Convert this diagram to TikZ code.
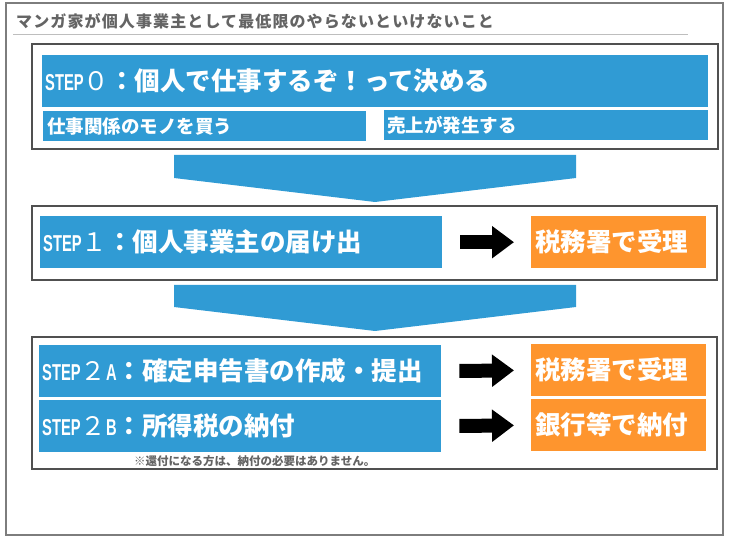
\documentclass[tikz,border=0pt]{standalone}
\usepackage{fontspec}
\usepackage{xcolor}
\usepackage{tikz}
\usetikzlibrary{positioning,arrows.meta,calc}
\setmainfont{Noto Sans CJK JP}
\newfontfamily\titlefont{Noto Sans CJK JP}[LetterSpace=7]
\newfontfamily\stepfont{Liberation Sans}[FakeStretch=0.64]
\definecolor{stepblue}{RGB}{48,155,212}
\definecolor{taxorange}{RGB}{254,149,46}
\definecolor{boxgray}{RGB}{80,80,80}
\definecolor{framegray}{RGB}{125,125,125}
\definecolor{titlegray}{RGB}{100,100,100}
\definecolor{rulegray}{RGB}{190,190,190}
\tikzset{
  stepbox/.style={draw=boxgray,line width=2.2pt},
  stepbar/.style={fill=stepblue,text=white,anchor=north west,
            inner xsep=3pt,inner ysep=0pt,minimum height=52pt,text width=396pt,
            align=left,font=\fontsize{25.5}{28}\selectfont\bfseries},
  subbar/.style={stepbar,minimum height=30pt,font=\fontsize{18.5}{20}\selectfont\bfseries},
  office/.style={stepbar,fill=taxorange,inner xsep=4pt,text width=167pt},
  flowdown/.style={fill=stepblue},
  goarrow/.style={line width=14pt,-{Triangle[width=31pt,length=22pt]},
            shorten <=18pt,shorten >=17pt},
}
\newcommand{\steplbl}[1]{{\fontsize{23}{24}\selectfont\stepfont\bfseries #1}}

\begin{document}
\begin{tikzpicture}[x=1pt,y=-1pt,
                    titletext/.style={anchor=west,inner sep=0pt,text=titlegray,
                                      font=\titlefont\fontsize{16}{18}\selectfont\bfseries},
                    notetext/.style={anchor=west,inner sep=0pt,text=titlegray,
                                     font=\fontsize{11.5}{13}\selectfont\bfseries}]
  \useasboundingbox (0,0) rectangle (729,537);
  \draw[framegray,line width=2pt] (6,3) rectangle (723,535);
  \node[titletext] (title) at (16,21) {マンガ家が個人事業主として最低限のやらないといけないこと};
  \draw[rulegray,line width=1pt] (13,35) -- (688,35);

  \draw[stepbox] (32,44) rectangle (718,149);
  \node[stepbar,text width=660pt] (s0) at (42,55)
    {\steplbl{STEP}{\mdseries ０}：個人で仕事するぞ！って決める};
  \node[subbar,inner xsep=4pt,text width=315pt] (s0a) at (43,111) {仕事関係のモノを買う};
  \node[subbar,text width=318pt] (s0b) at (384,110) {売上が発生する};

  \fill[flowdown] (174,155) -- (576,155) -- (576,178) -- (375,202) -- (174,178) -- cycle;

  \draw[stepbox] (32,206) rectangle (717,280);
  \node[stepbar] (s1) at (40,216) {\steplbl{STEP}{\mdseries １}：個人事業主の届け出};
  \node[office] (r1) at (531,216) {税務署で受理};
  \draw[goarrow] (s1.east) -- (r1.west);

  \fill[flowdown] (174,285) -- (576,285) -- (576,307) -- (375,331) -- (174,307) -- cycle;

  \draw[stepbox] (32,337) rectangle (717,469);
  \node[stepbar] (s2a) at (39,345) {\steplbl{STEP}{\mdseries ２}\steplbl{A}：確定申告書の作成・提出};
  \node[office] (r2a) at (531,344) {税務署で受理};
  \draw[goarrow] (s2a.east) -- (r2a.west);
  \node[stepbar] (s2b) at (39,400) {\steplbl{STEP}{\mdseries ２}\steplbl{B}：所得税の納付};
  \node[office] (r2b) at (531,399) {銀行等で納付};
  \draw[goarrow] (s2b.east) -- (r2b.west);
  \node[notetext] (note) at (134,461) {※還付になる方は、納付の必要はありません。};
\end{tikzpicture}
\end{document}
